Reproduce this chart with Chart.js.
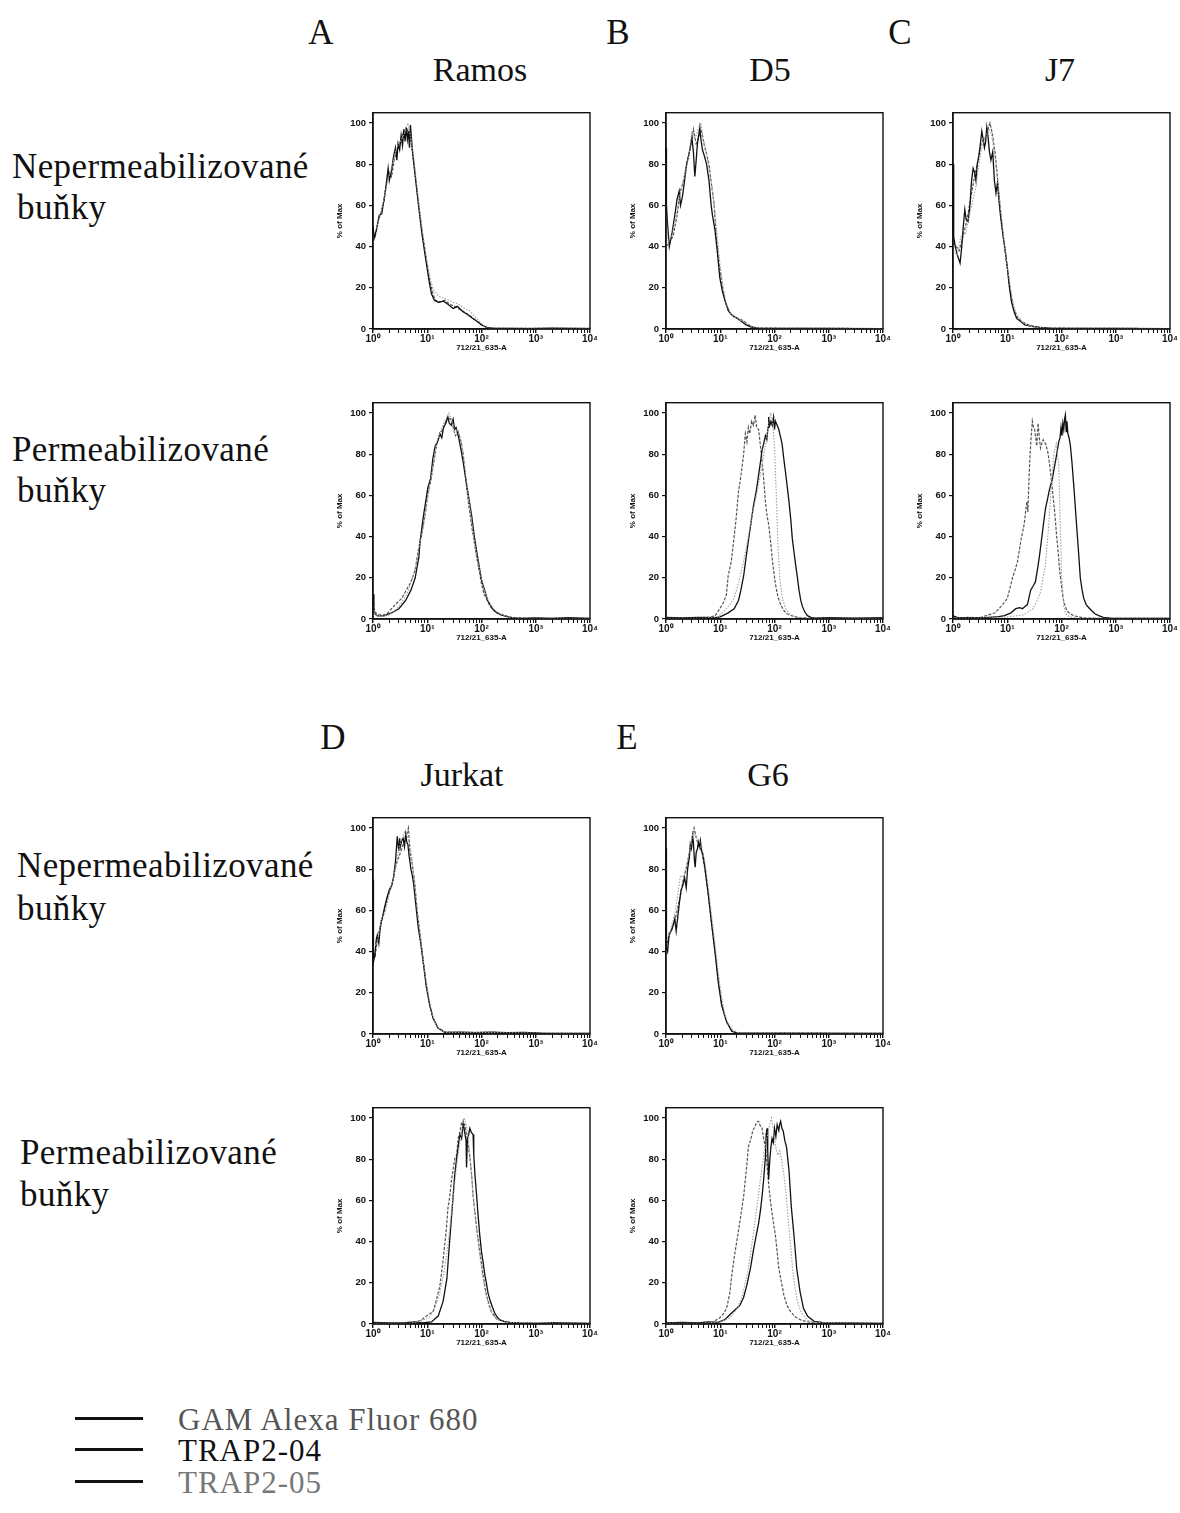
<!DOCTYPE html>
<html>
<head>
<meta charset="utf-8">
<script src="https://cdn.jsdelivr.net/npm/chart.js@4/dist/chart.umd.min.js"></script>
<style>
  html,body{margin:0;padding:0;background:#fff;}
  #fig{position:relative;width:1180px;height:1513px;background:#fff;overflow:hidden;}
  .t{position:absolute;font-family:"Liberation Serif","Times New Roman",serif;line-height:1;white-space:nowrap;color:#111;}
  .c{transform:translate(-50%,-50%);}
  .l{transform:translateY(-50%);}
  .big{font-size:35px;}
  .ttl{font-size:34px;}
  .lab{font-size:35px;letter-spacing:0.4px;}
  .leg{font-size:31px;letter-spacing:1.0px;}
  .pan{position:absolute;}
  .ll{position:absolute;left:75px;width:68px;height:3px;background:#111;}
</style>
</head>
<body>
<div id="fig">
  <div class="t c big" style="left:321px;top:32px">A</div>
  <div class="t c big" style="left:618px;top:32px">B</div>
  <div class="t c big" style="left:900px;top:32px">C</div>
  <div class="t c ttl" style="left:480px;top:70px">Ramos</div>
  <div class="t c ttl" style="left:770px;top:70px">D5</div>
  <div class="t c ttl" style="left:1060px;top:70px">J7</div>
  <div class="t l lab" style="left:12px;top:166px">Nepermeabilizované</div>
  <div class="t l lab" style="left:17px;top:207px">buňky</div>
  <div class="t l lab" style="left:12px;top:449px">Permeabilizované</div>
  <div class="t l lab" style="left:17px;top:490px">buňky</div>

  <div class="t c big" style="left:333px;top:737px">D</div>
  <div class="t c big" style="left:627px;top:737px">E</div>
  <div class="t c ttl" style="left:462px;top:775px">Jurkat</div>
  <div class="t c ttl" style="left:768px;top:775px">G6</div>
  <div class="t l lab" style="left:17px;top:865px">Nepermeabilizované</div>
  <div class="t l lab" style="left:17px;top:908px">buňky</div>
  <div class="t l lab" style="left:20px;top:1152px">Permeabilizované</div>
  <div class="t l lab" style="left:20px;top:1194px">buňky</div>

  <div class="ll" style="top:1417px"></div>
  <div class="ll" style="top:1448px"></div>
  <div class="ll" style="top:1480px"></div>
  <div class="t l leg" id="leg0" style="left:178px;top:1419px;color:#555"></div>
  <div class="t l leg" id="leg1" style="left:178px;top:1450px;color:#111"></div>
  <div class="t l leg" id="leg2" style="left:178px;top:1482px;color:#777"></div>
</div>
<script>
// ---------- labels ----------
const SERIES_NAMES = ["GAM Alexa Fluor 680", "TRAP2-04", "TRAP2-05"];
const X_MAJOR = [1, 10, 100, 1000, 10000];
const X_MAJOR_LABELS = ["10⁰", "10¹", "10²", "10³", "10⁴"];
const Y_TICKS = [0, 20, 40, 60, 80, 100];
const X_TITLE = "712/21_635-A";
const Y_TITLE = "% of Max";

// ---------- data: [fluorescence, % of max] ----------
// Ramos, non-permeabilized
const RAMOS_N_GAM = [[1,47],[1.1,45],[1.25,52],[1.4,57],[1.6,62],[1.8,72],[2.0,76],[2.2,74],[2.5,83],[2.8,86],[3.1,90],[3.4,93],[3.7,96],[4.0,94],[4.4,97],[4.8,95],[5.2,88],[5.7,80],[6.3,70],[7,60],[8,48],[9,39],[10,31],[11,24],[12.5,18],[14,14],[17,13],[21,14],[26,12],[32,11],[40,9.5],[50,8],[65,6],[80,4],[100,2],[130,0.6],[200,0.3],[10000,0.3]];
const RAMOS_N_T04 = [[1,50],[1.05,44],[1.15,48],[1.3,55],[1.45,56],[1.6,63],[1.75,70],[1.9,78],[2.0,72],[2.2,77],[2.4,84],[2.6,88],[2.75,82],[2.9,90],[3.1,87],[3.3,94],[3.5,89],[3.7,97],[3.9,91],[4.1,98],[4.3,92],[4.5,96],[4.7,88],[4.9,99],[5.1,93],[5.4,85],[5.9,76],[6.5,66],[7.2,56],[8,46],[9,37],[10,29],[11,22],[12,17],[13.5,14],[16,13],[20,13.5],[24,12],[30,10],[36,11],[45,8.5],[55,7],[70,5],[85,3.5],[100,2],[125,0.8],[160,0.4],[300,0.3],[800,0.2],[2000,0.4],[10000,0.2]];
const RAMOS_N_T05 = [[1,45],[1.2,50],[1.5,60],[1.9,73],[2.3,80],[2.7,88],[3.2,91],[3.8,95],[4.4,100],[5.0,93],[5.6,84],[6.3,72],[7.2,58],[8.5,44],[10,32],[11.5,24],[13,19],[16,16],[20,15],[25,14],[30,13],[38,12],[48,10],[60,9],[75,6],[90,4],[110,1.5],[140,0.5],[10000,0.3]];
// D5, non-permeabilized
const D5_N_GAM = [[1,40],[1.15,42],[1.35,45],[1.6,55],[1.8,66],[2.1,72],[2.5,82],[2.9,90],[3.2,97],[3.6,90],[4.0,93],[4.5,96],[5.0,90],[5.6,85],[6.2,80],[6.9,70],[7.6,62],[8.5,44],[9.5,32],[11,20],[12.5,13],[15,8],[18,6],[22,5],[27,4],[33,2],[40,0.8],[60,0.4],[10000,0.2]];
const D5_N_T04 = [[1,88],[1.02,60],[1.06,52],[1.15,40],[1.3,47],[1.45,55],[1.6,63],[1.75,67],[1.85,60],[2.0,64],[2.2,72],[2.4,80],[2.6,84],[2.8,88],[3.0,93],[3.2,86],[3.4,74],[3.6,82],[3.8,90],[4.0,94],[4.2,98],[4.4,92],[4.7,87],[5.1,84],[5.6,80],[6.2,72],[6.8,60],[7.2,55],[8,48],[8.8,38],[9.8,25],[11,18],[12.5,13],[14,9],[16,7],[18,6],[21,5],[25,3.5],[30,2],[36,1],[50,0.4],[10000,0.2]];
const D5_N_T05 = [[1,55],[1.1,42],[1.3,46],[1.6,58],[1.9,68],[2.3,76],[2.7,86],[3.0,96],[3.4,92],[3.9,97],[4.4,100],[4.9,92],[5.5,86],[6.2,78],[7,70],[7.8,60],[8.8,45],[10,30],[11.5,19],[13,12],[16,7],[20,5],[25,4],[32,2.5],[40,1],[60,0.4],[10000,0.2]];
// J7, non-permeabilized
const J7_N_GAM = [[1,42],[1.15,40],[1.3,38],[1.5,44],[1.7,50],[1.9,56],[2.2,66],[2.5,74],[2.9,82],[3.3,90],[3.8,92],[4.3,96],[4.8,100],[5.3,95],[6,85],[6.8,70],[7.6,56],[8.5,44],[9.5,34],[10.5,26],[11.5,18],[13,10],[15,6],[18,4],[22,2.5],[28,1.5],[40,0.8],[70,0.4],[10000,0.2]];
const J7_N_T04 = [[1,80],[1.03,45],[1.1,40],[1.2,36],[1.35,32],[1.45,40],[1.55,50],[1.65,58],[1.75,53],[1.9,52],[2.05,60],[2.2,72],[2.35,78],[2.5,76],[2.65,72],[2.8,80],[3.0,84],[3.2,90],[3.4,96],[3.6,92],[3.8,88],[4.0,91],[4.2,98],[4.4,94],[4.7,86],[5.0,82],[5.4,86],[5.8,72],[6.2,66],[6.6,71],[7.0,63],[7.5,55],[8.3,46],[9.2,38],[10,30],[11,20],[12,13],[13.5,8],[15,5],[18,3.5],[21,2],[26,1.5],[30,1.2],[40,0.8],[60,0.4],[10000,0.2]];
const J7_N_T05 = [[1,38],[1.2,36],[1.4,45],[1.7,46],[2.0,55],[2.3,62],[2.6,68],[3.0,80],[3.5,90],[4.0,93],[4.6,97],[5.1,95],[5.6,88],[6.3,78],[7,66],[8,52],[9,40],[10,30],[11.5,20],[13,12],[15,7],[18,4],[22,2],[30,1],[50,0.5],[10000,0.2]];
// Ramos, permeabilized
const RAMOS_P_GAM = [[1,10],[1.05,5],[1.15,2.5],[1.3,2],[1.6,2],[1.8,2.5],[2.3,5.5],[2.8,8],[3.4,10],[4.1,14],[4.9,17.5],[5.9,23],[6.9,34],[7.8,40],[8.5,46],[9.3,52],[10,60],[11.4,66],[13,75],[15,85],[17.5,90],[20,93],[22,96],[24,98],[27,97],[30,93],[33,89],[37,91],[42,86],[46,80],[52,66],[59,54],[66,45],[73,38],[80,31],[90,24],[100,17],[112,12],[125,9.5],[145,6],[166,4.5],[190,3.3],[220,2.4],[280,1.5],[340,0.8],[500,0.4],[10000,0.3]];
const RAMOS_P_T04 = [[1,12],[1.04,3],[1.2,1.5],[1.6,1.5],[2.2,3],[3,5],[4,9],[5,14],[6,20],[7,30],[7.4,38],[8.5,50],[10.3,64],[11.5,68],[12.7,78],[14,84],[15.5,86],[17,90],[18.5,88],[20,93],[22,95],[24,98],[25.5,95],[27.7,94],[30,97],[32,92],[34,93],[38,88],[42,82],[46,76],[52,67],[59,58],[66,50],[73,41],[80,34],[90,26],[100,19],[117,13],[130,9],[144,7],[165,4.5],[190,3],[230,2],[293,1.1],[400,0.5],[600,0.3],[1000,0.5],[2000,0.3],[4000,0.6],[10000,0.3]];
const RAMOS_P_T05 = [[1,6],[1.1,2],[1.5,1.5],[2,2],[2.5,4],[3.2,7],[4.2,12],[5.2,19],[6.2,26],[7.2,36],[8.5,45],[10,57],[11.4,66],[13,76],[15,86],[18,92],[21,96],[25,100],[28,97],[32,91],[36,92],[40,89],[45,82],[50,72],[57,60],[64,50],[72,40],[82,31],[95,22],[110,15],[128,10],[150,6.5],[180,4],[220,2.5],[300,1],[450,0.4],[10000,0.3]];
// D5, permeabilized
const D5_P_GAM = [[1,0.6],[3,0.5],[6,0.8],[8,1.5],[9.8,5],[11.5,8],[13,12],[14,21],[16,28],[17.5,37],[19.5,48],[21.7,62],[23,66],[25,73],[27,80],[29,90],[31,86],[33,93],[35,90],[38,96],[41,94],[44,99],[47,93],[51,92],[55,84],[59,77],[64,66],[68,57],[73,50],[78,46],[85,37],[91,29],[98,22],[104,17],[115,11],[129,7],[150,4],[172,2.4],[210,1.5],[264,0.8],[400,0.4],[10000,0.3]];
const D5_P_T04 = [[1,0.8],[2,0.5],[4,0.8],[8,0.6],[10,1],[14,3],[18,5],[21.7,9],[24,14],[27,21],[30,30],[33,38],[37,47],[41,55],[46,62],[51,70],[55,76],[59,82],[63,85],[68,89],[72,87],[76,93],[78,98],[82,94],[86,96],[91,94],[96,98],[100,92],[104,96],[112,94],[120,92],[130,88],[138,85],[148,78],[160,71],[172,64],[185,57],[200,48],[213,39],[230,32],[246,26],[265,20],[283,14],[305,9],[328,6],[360,3.5],[405,1.6],[470,0.8],[540,0.4],[1000,0.6],[3000,0.4],[10000,0.6]];
const D5_P_T05 = [[1,0.4],[5,0.4],[9,1],[11,3],[14,6],[18,10],[22,18],[27,28],[33,40],[40,52],[48,62],[55,70],[62,78],[70,86],[78,95],[85,100],[92,96],[100,84],[108,60],[115,38],[125,20],[140,10],[160,5],[190,2.5],[250,1],[400,0.4],[10000,0.3]];
// J7, permeabilized
const J7_P_GAM = [[1,1],[1.2,0.6],[2,0.8],[3,0.5],[5,2.4],[6,3],[7.6,6],[8.8,8],[10,10],[11,14],[12.5,20],[14,24],[15.5,28],[17.8,38],[20.5,46],[22,53],[23,57],[24,52],[25,66],[26,77],[27.5,88],[29,96],[30.5,93],[32,92],[33.5,88],[35,84],[37,95],[39,88],[41,83],[43,85],[46,87],[48,86],[51,85],[56,81],[61,74],[66,66],[71,58],[76,50],[81,41],[87,32],[93,23],[100,16],[107,10],[116,6.5],[126,4],[145,2.5],[168,1.6],[257,0.5],[500,0.3],[10000,0.3]];
const J7_P_T04 = [[1,1.5],[1.2,0.8],[2,0.6],[4,0.7],[7,1.2],[8.9,1.6],[11.7,3],[14.4,5],[17,5.5],[19,5],[21,6],[23.5,7],[25,10],[27,14],[30,16],[33,18],[36,24],[39,30],[44.5,42],[48,49],[51,54],[55,58],[59,62],[63,65],[68,68],[73,73],[78,77],[84,82],[89,86],[94,88],[98,93],[102,89],[106,95],[110,92],[114,97],[118,99],[122,91],[126,96],[131,90],[138,88],[146,84],[156,76],[168,65],[180,54],[194,42],[208,31],[222,20],[240,14],[257,10],[285,7],[316,5.6],[360,4],[418,2.4],[500,1.5],[590,0.8],[800,0.4],[2000,0.3],[10000,0.3]];
const J7_P_T05 = [[1,0.5],[5,0.5],[10,1],[20,2],[30,5],[40,12],[50,25],[58,45],[65,65],[72,80],[80,85],[89,75],[95,45],[100,23],[110,6],[120,2.4],[140,1],[200,0.4],[10000,0.3]];
// Jurkat, non-permeabilized
const JURKAT_N_GAM = [[1,40],[1.1,38],[1.2,46],[1.35,52],[1.5,56],[1.7,62],[1.9,67],[2.2,72],[2.5,79],[2.8,84],[3.2,88],[3.6,92],[4.0,95],[4.5,100],[4.8,88],[5.3,82],[5.9,73],[6.5,60],[7.5,47],[8.6,34],[9.6,24],[11,15],[12.8,8],[15.8,3],[21,1],[30,0.8],[100,0.8],[300,0.7],[1000,0.6],[1200,0.3],[10000,0.3]];
const JURKAT_N_T04 = [[1,75],[1.02,35],[1.08,38],[1.15,46],[1.2,48],[1.28,44],[1.33,49],[1.42,55],[1.5,57],[1.65,62],[1.8,66],[2.0,70],[2.2,72],[2.4,76],[2.6,84],[2.7,90],[2.8,96],[2.9,92],[3.0,89],[3.1,95],[3.2,91],[3.4,94],[3.6,95],[3.8,91],[4.0,97],[4.2,93],[4.4,92],[4.6,87],[5.0,80],[5.3,77],[5.6,73],[6.2,62],[6.8,52],[7.5,45],[8.6,33],[9.6,23],[11.1,14],[12.8,7.6],[15.8,2.9],[21,0.8],[40,0.9],[80,0.7],[150,0.9],[300,0.6],[600,0.8],[1000,0.5],[1500,0.3],[10000,0.3]];
const JURKAT_N_T05 = [[1,42],[1.2,44],[1.4,55],[1.7,60],[2.0,68],[2.4,76],[2.8,86],[3.3,94],[3.8,98],[4.3,96],[4.8,92],[5.3,84],[6,70],[6.8,56],[7.7,44],[8.8,32],[10,22],[11.5,13],[13.5,6],[17,2],[22,0.8],[100,0.7],[1000,0.5],[10000,0.3]];
// G6, non-permeabilized
const G6_N_GAM = [[1,42],[1.15,48],[1.33,52],[1.55,58],[1.8,66],[2.05,74],[2.35,80],[2.7,88],[3.0,95],[3.3,100],[3.7,94],[4.1,92],[4.6,88],[5.2,80],[6,68],[6.9,54],[8,40],[9.2,26],[10.6,15],[12,9],[13.1,6],[16.3,1.5],[20,0.5],[10000,0.3]];
const G6_N_T04 = [[1,90],[1.02,42],[1.07,40],[1.15,49],[1.25,50],[1.33,52],[1.45,56],[1.54,50],[1.65,57],[1.77,64],[1.9,70],[2.04,72],[2.2,76],[2.36,71],[2.5,80],[2.7,86],[2.8,92],[2.95,90],[3.1,96],[3.2,93],[3.35,84],[3.45,81],[3.6,88],[3.8,90],[3.95,93],[4.1,91],[4.3,94],[4.5,89],[4.8,87],[5.2,81],[6,68],[6.9,54],[8,40],[9.2,25],[10.6,14],[13.1,6],[16.3,1.3],[20,0.5],[60,0.4],[10000,0.3]];
const G6_N_T05 = [[1,45],[1.2,50],[1.5,60],[1.85,77],[2.1,76],[2.5,84],[2.9,93],[3.14,98],[3.5,96],[4,94],[4.5,92],[5.2,84],[6,72],[6.9,58],[8,44],[9.2,30],[10.6,18],[12,10],[14,5],[17,2],[22,0.6],[10000,0.3]];
// Jurkat, permeabilized
const JURKAT_P_GAM = [[1,0.3],[3,0.3],[5.5,0.6],[6.2,1],[7.8,2],[10.4,4.5],[12.8,6],[14.8,12],[17,18],[19.6,31],[22.5,46],[24,56],[26,62],[28,70],[32,80],[35,82],[37,90],[40,93],[43,98],[46,96],[49,97],[52,93],[55,90],[58,85],[61,81],[66,72],[70,62],[76,54],[81,47],[93,35],[107,24],[123,14],[140,9],[152,6],[190,2.4],[290,0.8],[500,0.4],[10000,0.3]];
const JURKAT_P_T04 = [[1,0.8],[2,0.5],[4,0.6],[6,1],[8,0.5],[12,1],[16,4],[19.6,11],[23,22],[26,41],[30,62],[32,72],[35,81],[38,88],[40,92],[43,90],[46,97.6],[49,93],[52,89],[53,76],[55,90],[58,92],[61,95],[65,93],[70,92],[72,82],[76,72],[81,63],[87,52],[93,43],[100,35],[107,30],[115,24],[123,20],[132,15],[142,12],[160,8],[177,5],[200,3],[218,2],[260,1.3],[331,0.8],[500,0.5],[1000,0.3],[2000,0.6],[10000,0.3]];
const JURKAT_P_T05 = [[1,0.3],[5,0.4],[8,1.5],[11,3.5],[14,8],[17,15],[20,24],[24,38],[28,54],[32,68],[36,80],[40,88],[44,95],[48,100],[53,96],[58,88],[64,76],[70,63],[78,50],[88,38],[100,27],[115,17],[135,9],[160,4.5],[200,2],[280,0.8],[10000,0.3]];
// G6, permeabilized
const G6_P_GAM = [[1,0.5],[3,0.3],[5,0.8],[7,0.6],[9.8,3],[11.5,5],[13.1,7.6],[15,15],[16.3,23.6],[18,32],[20,39.5],[23.3,50.6],[27,62],[31,77.7],[33,86],[36,89],[40,94],[44,96],[47,98],[51,98.4],[55,96],[59,95],[63,90],[68,85.7],[73,77],[78,68],[84,60],[90,54],[97,48],[104,43],[112,35],[120,27],[135,20],[149,14],[170,9],[198,6],[240,3.5],[303,2],[380,1.2],[466,0.8],[700,0.4],[10000,0.3]];
const G6_P_T04 = [[1,0.5],[2,0.8],[4,0.5],[6,1],[9,0.8],[12,2],[15,4.5],[19,7],[23,9],[27,13],[31,19],[36,27],[41,36],[46,43],[51,49],[55,55],[59,62],[63,70],[68,81],[70,92],[73,95],[75,84],[78,70],[82,80],[86,86],[90,90],[95,88],[100,95],[106,91],[112,96.8],[120,94],[125,97],[130,98.4],[137,95],[145,93.6],[155,89],[167,85.7],[185,74.5],[204,57],[229,42.7],[257,26.8],[296,15.6],[342,7.6],[408,3.7],[538,1.3],[800,0.6],[10000,0.3]];
const G6_P_T05 = [[1,0.3],[5,0.4],[10,1],[15,3],[20,7],[25,13],[32,25],[40,42],[48,58],[56,72],[64,83],[72,90],[80,96],[88,100],[96,94],[105,86],[115,82],[125,84],[135,80],[150,72],[165,62],[180,50],[195,40],[215,27],[240,17],[270,10],[320,5],[400,2],[500,0.8],[10000,0.3]];

// ---------- layout ----------
const PLOT_W = 217, PLOT_H = 220, AX_W = 45, AX_H = 30, PAD_T = 5, PAD_R = 10;
const PANELS = [
  {left:373, top:109, data:[RAMOS_N_GAM, RAMOS_N_T04, RAMOS_N_T05]},
  {left:666, top:109, data:[D5_N_GAM, D5_N_T04, D5_N_T05]},
  {left:953, top:109, data:[J7_N_GAM, J7_N_T04, J7_N_T05]},
  {left:373, top:399, data:[RAMOS_P_GAM, RAMOS_P_T04, RAMOS_P_T05]},
  {left:666, top:399, data:[D5_P_GAM, D5_P_T04, D5_P_T05]},
  {left:953, top:399, data:[J7_P_GAM, J7_P_T04, J7_P_T05]},
  {left:373, top:814, data:[JURKAT_N_GAM, JURKAT_N_T04, JURKAT_N_T05]},
  {left:666, top:814, data:[G6_N_GAM, G6_N_T04, G6_N_T05]},
  {left:373, top:1104, data:[JURKAT_P_GAM, JURKAT_P_T04, JURKAT_P_T05]},
  {left:666, top:1104, data:[G6_P_GAM, G6_P_T04, G6_P_T05]}
];
const STYLES = [
  {color:'#555555', width:1.2, dash:[3,1.5]},
  {color:'#111111', width:1.3, dash:[]},
  {color:'#a0a0a0', width:1.1, dash:[1.5,1.5]}
];
const SANS = '"Liberation Sans", Arial, sans-serif';

SERIES_NAMES.forEach((n,i)=>{document.getElementById('leg'+i).textContent = n;});

const X_TICKS = [];
for (let d = 1; d < 10000; d *= 10) for (let m = 1; m < 10; m++) X_TICKS.push(m*d);
X_TICKS.push(10000);

const framePlugin = {
  id:'frame',
  afterDraw(chart){
    const {ctx, chartArea:a} = chart;
    ctx.save();
    ctx.strokeStyle = '#111';
    ctx.lineWidth = 1.4;
    ctx.strokeRect(a.left, a.top, a.right - a.left, a.bottom - a.top);
    ctx.restore();
  }
};

const fig = document.getElementById('fig');
PANELS.forEach(p => {
  const W = AX_W + PLOT_W + PAD_R, H = PAD_T + PLOT_H + AX_H;
  const div = document.createElement('div');
  div.className = 'pan';
  div.style.left = (p.left - AX_W) + 'px';
  div.style.top = (p.top - PAD_T) + 'px';
  div.style.width = W + 'px'; div.style.height = H + 'px';
  const cv = document.createElement('canvas');
  cv.width = W; cv.height = H;
  cv.style.width = W + 'px'; cv.style.height = H + 'px';
  div.appendChild(cv); fig.appendChild(div);
  new Chart(cv, {
    type:'line',
    data:{datasets: p.data.map((arr,i)=>({
      label: SERIES_NAMES[i],
      data: arr.map(([x,y])=>({x, y})),
      borderColor: STYLES[i].color,
      borderWidth: STYLES[i].width,
      borderDash: STYLES[i].dash,
      pointRadius: 0,
      tension: 0,
      fill: false
    })).reverse()},
    options:{
      responsive:false, animation:false, events:[],
      layout:{padding:{top:PAD_T, right:PAD_R, left:0, bottom:0}},
      plugins:{legend:{display:false}, tooltip:{enabled:false}},
      scales:{
        x:{
          type:'logarithmic', min:1, max:10000,
          afterBuildTicks: s => { s.ticks = X_TICKS.map(v => ({value:v, major: X_MAJOR.includes(v)})); },
          afterFit: s => { s.height = AX_H; },
          grid:{drawOnChartArea:false, drawTicks:true, tickLength:4, color:'#111',
                lineWidth: c => (c.tick && c.tick.major) ? 1.4 : 1.0},
          border:{display:true, color:'#111', width:1.4},
          ticks:{autoSkip:false, maxRotation:0, padding:0, color:'#111',
                 font:{family:SANS, size:10, weight:'bold'},
                 callback: v => { const k = X_MAJOR.indexOf(v); return k >= 0 ? X_MAJOR_LABELS[k] : ''; }},
          title:{display:true, text:X_TITLE, color:'#111', padding:{top:0, bottom:6},
                 font:{family:SANS, size:8, weight:'bold'}}
        },
        y:{
          type:'linear', min:0, max:105,
          afterBuildTicks: s => { s.ticks = Y_TICKS.map(v => ({value:v})); },
          afterFit: s => { s.width = AX_W; },
          grid:{drawOnChartArea:false, drawTicks:true, tickLength:4, color:'#111', lineWidth:1.2},
          border:{display:true, color:'#111', width:1.4},
          ticks:{padding:3, color:'#111',
                 font:{family:SANS, size:9.5, weight:'bold'}},
          title:{display:true, text:Y_TITLE, color:'#111', padding:{top:7, bottom:0},
                 font:{family:SANS, size:8, weight:'bold'}}
        }
      }
    },
    plugins:[framePlugin]
  });
});
</script>
</body>
</html>
